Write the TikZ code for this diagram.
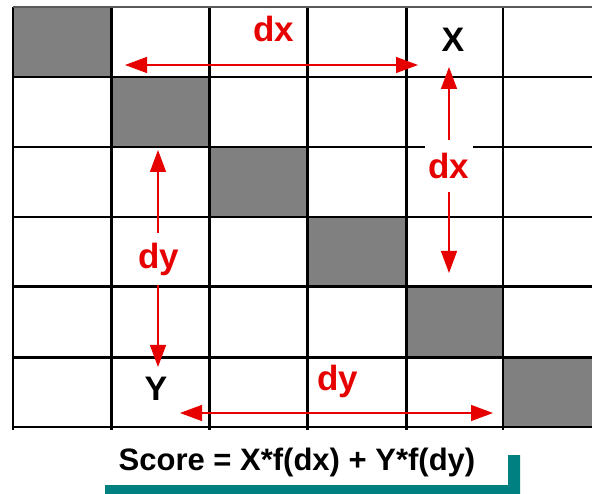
\documentclass[tikz,border=0pt]{standalone}
\usepackage{fontspec}
\setmainfont{Liberation Sans}
\usetikzlibrary{arrows.meta}
\definecolor{cellgray}{RGB}{128,128,128}
\definecolor{barteal}{RGB}{0,128,128}
\definecolor{markred}{RGB}{230,0,0}

\begin{document}
\begin{tikzpicture}[
  x=1pt,
  y=-1pt,
  shaded/.style={fill=cellgray},
  gridline/.style={draw=black},
  measure/.style={draw=markred, line width=1.3pt, <->, >={Triangle[length=22pt,width=16pt]}},
  tag/.style={font=\bfseries\fontsize{35}{40}\selectfont, text=markred, inner sep=0pt},
  gaptag/.style={tag, fill=white, inner xsep=4pt, minimum height=52pt},
  corner/.style={font=\bfseries\fontsize{34}{40}\selectfont, inner sep=0pt},
  formula/.style={font=\bfseries\fontsize{31}{36}\selectfont, inner sep=0pt}
]
\useasboundingbox (0,0) rectangle (592,494);
\fill[white] (0,0) rectangle (592,494);

% diagonal cells
\foreach \xa/\xb/\ya/\yb in {13/111/7/77, 111/209/77/147, 209/307/147/217,
                             307/406/217/287, 406/503/287/358, 503/592/358/427} {
  \fill[shaded] (\xa,\ya) rectangle (\xb,\yb);
}

% grid lines
\foreach \x/\w in {13/2, 111/3, 209/3, 307/3, 406/3, 503/2} {
  \draw[gridline, line width=\w pt] (\x,7) -- (\x,430);
}
\draw[gridline, draw=black!65, line width=1.5pt] (13,7) -- (592,7);
\foreach \y/\w in {77/2, 147/2, 217/2, 287/3, 358/3, 427/2} {
  \draw[gridline, line width=\w pt] (13,\y) -- (592,\y);
}

% corner marks
\node[corner, anchor=base] (xmark) at (453,52) {X};
\node[corner, anchor=base] (ymark) at (156,401) {Y};

% arrow ends
\coordinate (dxL) at (125,65);
\coordinate (dxR) at (418,65);
\coordinate (dxT) at (449,67);
\coordinate (dxB) at (449,273);
\coordinate (dyT) at (158,150);
\coordinate (dyB) at (158,367);
\coordinate (dyL) at (180,413);
\coordinate (dyR) at (493,413);

% measures
\draw[measure] (dxL) -- (dxR);
\node[tag, anchor=base] (dxtop) at (274,42) {dx};
\draw[measure] (dxT) -- (dxB);
\node[gaptag] (dxside) at (449,166) {dx};
\draw[measure] (dyT) -- (dyB);
\node[gaptag] (dyside) at (159,259) {dy};
\draw[measure] (dyL) -- (dyR);
\node[tag, anchor=base] (dybottom) at (338,391) {dy};

% score
\node[formula, anchor=base] (score) at (297,470) {Score = X*f(dx) + Y*f(dy)};
\fill[barteal] (105,485) -- (508,485) -- (508,455) -- (520,455) -- (520,494) -- (105,494) -- cycle;
\end{tikzpicture}
\end{document}
